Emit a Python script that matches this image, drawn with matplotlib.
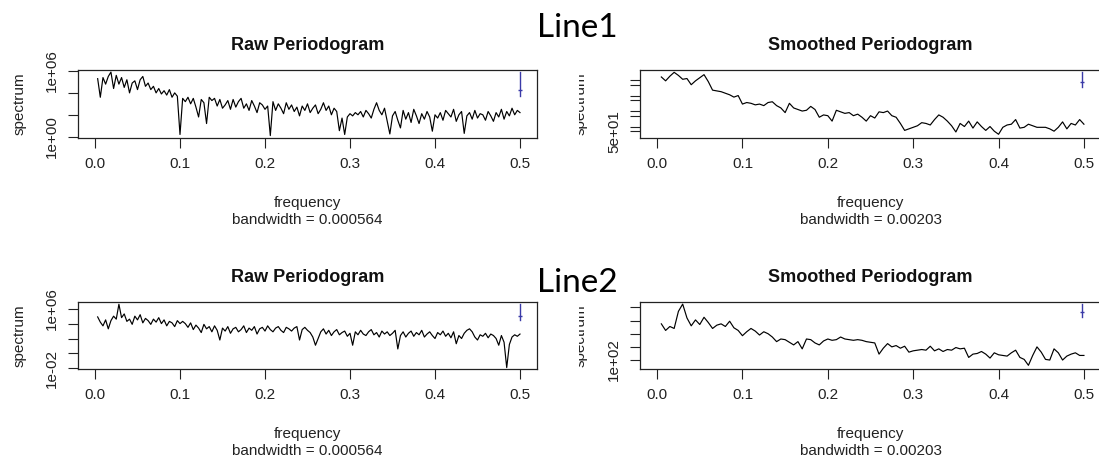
import numpy as np
import matplotlib
matplotlib.use("Agg")
import matplotlib.pyplot as plt
from matplotlib.ticker import FixedLocator, FixedFormatter, NullLocator
from matplotlib.transforms import Bbox, TransformedBbox

plt.rcParams['font.family'] = ['Liberation Sans', 'DejaVu Sans']

W, H = 1099, 459

# log10 of the raw periodogram ordinates (Line1, Line2)
raw1_log10 = [
    5.3, 3.6, 5.4, 4.8, 5.5, 5.9, 4.4, 5.6, 4.8, 5.4, 4.5, 5.2, 4.0, 4.9, 5.1, 4.3, 5.2, 5.5, 4.6, 4.9,
    4.3, 4.6, 4.0, 4.4, 3.9, 4.2, 3.8, 4.3, 3.6, 4.0, 3.7,
    0.2,
    3.5, 3.2, 3.6, 3.0, 3.5, 2.7, 1.8, 3.4, 3.1, 1.2, 3.6, 3.3, 3.5, 2.8, 3.4, 2.6, 2.9, 3.3, 2.5, 3.4,
    2.7, 3.2, 3.5, 2.6, 3.0, 2.4, 3.3, 2.8, 2.2, 3.1, 2.9, 2.5,
    2.8, 0.1,
    3.2, 2.4, 3.0, 2.6, 2.1, 3.1, 2.5, 2.9, 2.3, 2.7, 1.9, 2.8, 2.4, 3.0, 2.2, 2.6, 2.9, 2.1, 2.5, 3.1,
    2.4, 2.8, 2.0, 2.6, 2.3,
    0.55, 1.7, 0.2,
    1.8, 2.1, 1.9, 2.2, 2.0, 2.3, 1.8, 2.4, 2.1, 1.7, 2.5, 3.1, 2.4, 2.0, 2.6, 1.4, 0.25, 1.9, 2.3, 1.5,
    0.8, 2.4, 1.6, 2.2, 1.3, 2.5, 1.9, 1.2, 2.1, 1.6, 2.3, 1.8, 0.5, 2.0, 1.7, 2.2, 1.5, 2.4, 2.1, 1.8,
    2.5, 1.4, 2.0, 2.3, 0.3, 1.9, 2.2, 1.6, 2.4, 1.7, 2.1, 2.0, 1.5, 2.3, 1.9, 1.4, 2.2, 1.8, 2.5, 1.6,
    2.3, 1.9, 2.6, 2.0, 2.4, 2.2,
]
raw2_log10 = [
    4.9, 4.2, 3.7, 4.5, 3.3, 4.4, 5.0, 4.6, 6.6,
    4.8, 5.3, 4.3, 4.6, 3.9, 5.0, 4.5, 5.2, 4.1, 4.7, 4.4, 3.9, 4.6, 4.2, 4.8, 4.0, 4.5, 3.7, 4.3, 4.1,
    3.6, 4.4, 4.0,
    4.3, 4.0, 3.5, 4.1, 3.2, 3.8, 3.4, 2.8, 3.9, 3.3, 3.6, 2.9, 3.7, 3.1, 1.8, 3.4, 3.0, 3.6, 2.7, 3.3,
    3.5, 2.9, 3.2, 3.7, 2.8, 3.4, 3.1, 3.6, 2.6, 3.3, 3.5, 3.0, 3.7, 3.2, 2.9, 3.4, 3.6, 3.1, 2.8, 3.5,
    3.3, 3.0, 3.4, 3.6, 1.8, 3.2, 3.5, 3.1,
    2.8, 2.2, 1.1, 2.0,
    2.9, 3.3, 2.6, 3.1, 2.4, 2.9, 3.2, 2.5, 2.8, 3.0, 2.3, 2.7, 1.1, 2.9, 2.5, 3.1, 2.6, 2.4, 2.9, 3.2,
    2.5, 2.8, 2.2, 3.0, 2.6, 2.9, 2.4, 2.7, 3.1,
    0.6,
    2.4, 2.9, 2.2, 2.7, 3.0, 2.3, 2.8, 2.5, 3.1, 2.2, 2.6, 2.9, 2.4, 2.0, 2.8, 2.5, 3.0, 2.3, 2.7, 2.1,
    2.9, 1.3, 2.4, 2.0, 2.7, 3.1, 3.3, 2.9, 2.2, 1.8, 2.5, 2.3, 2.7, 2.1, 2.6, 2.4,
    2.0, 1.1, 2.4, 1.5, -1.9, 1.2, 2.2, 2.5, 2.3, 2.6,
]

# log10 of the smoothed periodograms
smooth1_log10 = [
    5.20, 4.95, 5.25, 5.50, 5.30, 5.05, 5.10, 4.70, 4.95, 5.15,
    5.35, 4.90, 4.35, 4.30, 4.25, 4.15, 4.05, 3.90, 4.00, 3.45,
    3.55, 3.50, 3.40, 3.45, 3.35, 3.55, 3.60, 3.35, 3.20, 2.90,
    3.50, 3.20, 3.10, 3.00, 3.05, 3.30, 3.10, 2.60, 2.75, 2.70,
    2.35, 3.05, 2.95, 2.85, 2.90, 2.70, 2.80, 2.60, 2.35, 2.70,
    2.55, 2.95, 2.90, 3.00, 2.70, 2.60, 2.20, 1.75, 1.85, 1.95,
    2.05, 2.25, 2.20, 2.10, 2.45, 2.75, 2.60, 2.35, 2.05, 1.65,
    2.20, 2.00, 2.35, 1.90, 2.30, 2.00, 1.75, 2.00, 1.70, 1.50,
    1.95, 2.10, 2.15, 2.45, 1.90, 1.95, 2.15, 2.05, 1.95, 1.95,
    1.95, 1.85, 1.70, 1.95, 2.30, 1.85, 2.20, 2.10, 2.45, 2.15,
]
smooth2_log10 = [
    4.75, 4.25, 4.55, 4.40, 5.70, 6.25, 5.20, 4.60, 5.05, 4.70,
    5.25, 4.85, 4.40, 4.65, 4.75, 4.55, 4.95, 4.45, 4.25, 3.85,
    4.15, 4.40, 4.20, 3.90, 4.15, 4.00, 3.75, 3.40, 3.60, 3.55,
    3.35, 3.15, 3.40, 2.85, 3.60, 3.55, 3.30, 3.15, 3.45, 3.60,
    3.50, 3.55, 3.75, 3.60, 3.55, 3.50, 3.55, 3.50, 3.40, 3.35,
    3.30, 2.45, 2.90, 3.25, 3.00, 3.10, 2.90, 3.05, 2.60, 2.70,
    2.75, 2.80, 2.75, 3.05, 2.70, 2.85, 2.65, 2.80, 2.75, 2.95,
    2.85, 2.90, 2.20, 2.45, 2.50, 2.65, 2.45, 2.15, 2.55, 2.40,
    2.35, 2.30, 2.55, 2.75, 2.20, 2.05, 1.60, 2.35, 3.00, 2.60,
    2.05, 2.00, 2.85, 2.55, 2.00, 2.30, 2.45, 2.55, 2.35, 2.35,
]

raw_bandwidth = 0.000564
smooth_bandwidth = 0.00203
# 95% chi-square limits, df = 2 for the raw estimate, df ~ 7 after smoothing
raw_conf = (2 / 7.3778, 2 / 0.0506)
smooth_conf = (7 / 16.0128, 7 / 1.6899)

x_ticks = [0.0, 0.1, 0.2, 0.3, 0.4, 0.5]

ci_col = '#3a3aa8'


def rect(left, top, right, bottom):
    """pixel box -> figure fraction [l, b, w, h]"""
    return [left / W, 1 - bottom / H, (right - left) / W, (bottom - top) / H]


def periodogram_panel(ax, spec_log10, bandwidth, conf, ylim_log10, yticks, ylabels, title):
    spec = 10 ** np.asarray(spec_log10)
    freq = np.arange(1, len(spec) + 1) * 0.5 / len(spec)
    ax.plot(freq, spec, color='black', lw=0.85)
    ax.set_yscale('log')

    # confidence bar like R's plot.spec
    conf_x = freq.max() - bandwidth
    conf_y = spec.max() / conf[1]
    ax.plot([conf_x, conf_x], [conf_y * conf[0], conf_y * conf[1]], color=ci_col, lw=1.0)
    ax.plot([conf_x], [conf_y], color=ci_col, marker='_', markersize=3, mew=1.0)

    ax.set_xlim(-0.02, 0.52)
    ax.set_ylim(10 ** ylim_log10[0], 10 ** ylim_log10[1])
    ax.xaxis.set_major_locator(FixedLocator(x_ticks))
    ax.xaxis.set_major_formatter(FixedFormatter([f'{t:.1f}' for t in x_ticks]))
    ax.yaxis.set_major_locator(FixedLocator(yticks))
    ax.yaxis.set_major_formatter(FixedFormatter(ylabels))
    ax.yaxis.set_minor_locator(NullLocator())
    ax.tick_params(direction='out', length=7.5, width=0.8, labelsize=11, pad=6,
                   colors='#222222')
    ax.tick_params(axis='y', labelrotation=90)
    for lab in ax.get_yticklabels():
        lab.set_verticalalignment('center')
    for sp in ax.spines.values():
        sp.set_linewidth(0.9)
        sp.set_color('#222222')

    ax.annotate(title, xy=(0.5, 1), xycoords='axes fraction', xytext=(0, 18),
                textcoords='offset points', ha='center', va='center',
                fontsize=13, fontweight='bold', color='#111111')
    ax.annotate('frequency', xy=(0.5, 0), xycoords='axes fraction', xytext=(0, -47),
                textcoords='offset points', ha='center', va='center', fontsize=11, color='#222222')
    ax.annotate(f'bandwidth = {bandwidth:g}', xy=(0.5, 0), xycoords='axes fraction',
                xytext=(0, -59), textcoords='offset points', ha='center', va='center',
                fontsize=11, color='#222222')


fig = plt.figure(figsize=(W / 100, H / 100), dpi=100)

ax1 = fig.add_axes(rect(78, 70, 537, 138))
ax2 = fig.add_axes(rect(640, 70, 1101, 138))
ax3 = fig.add_axes(rect(78, 302, 537, 369))
ax4 = fig.add_axes(rect(640, 302, 1101, 369))

periodogram_panel(ax1, raw1_log10, raw_bandwidth, raw_conf, (-0.12, 6.09),
                  [1e0, 1e2, 1e4, 1e6], ['1e+00', '', '', '1e+06'], 'Raw Periodogram')
periodogram_panel(ax2, smooth1_log10, smooth_bandwidth, smooth_conf, (1.26, 5.65),
                  [5e1, 1e2, 5e2, 1e3, 5e3, 1e4, 5e4, 1e5],
                  ['5e+01', '', '', '', '', '', '', ''], 'Smoothed Periodogram')
periodogram_panel(ax3, raw2_log10, raw_bandwidth, raw_conf, (-2.09, 6.9),
                  [1e-2, 1e0, 1e2, 1e4, 1e6], ['1e-02', '', '', '', '1e+06'], 'Raw Periodogram')
periodogram_panel(ax4, smooth2_log10, smooth_bandwidth, smooth_conf, (1.32, 6.41),
                  [1e2, 1e3, 1e4, 1e5, 1e6], ['1e+02', '', '', '', ''], 'Smoothed Periodogram')

# y labels; the right-hand ones are cut off on their left side
clip = TransformedBbox(Bbox([[579 / W, 0], [1, 1]]), fig.transFigure)
for ax, x_px in [(ax1, 20), (ax3, 20), (ax2, 581), (ax4, 581)]:
    pos = ax.get_position()
    t = fig.text(x_px / W, (pos.y0 + pos.y1) / 2, 'spectrum', rotation=90,
                 ha='center', va='center', fontsize=11, color='#222222')
    if x_px > W / 2:
        t.set_clip_box(clip)
        t.set_clip_on(True)

fig.text(577 / W, 1 - 28 / H, 'Line1', ha='center', va='center', fontsize=24,
         family=['Lato', 'DejaVu Sans'], color='black')
fig.text(577 / W, 1 - 283 / H, 'Line2', ha='center', va='center', fontsize=24,
         family=['Lato', 'DejaVu Sans'], color='black')

fig.savefig('out.png', dpi=100)
